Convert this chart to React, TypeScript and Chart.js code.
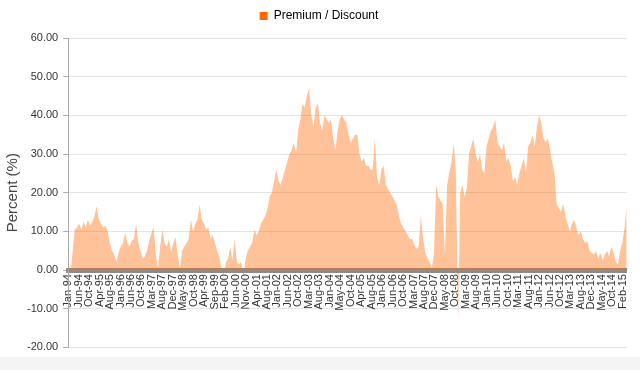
import React, { useEffect, useRef } from 'react';
import { Chart, registerables } from 'chart.js';

Chart.register(...registerables);

// Monthly premium / discount (%), Jan-1994 .. Apr-2015
const V1994 = [2.5, -1, 4.5, 10.5, 11, 12, 10.5, 12.5, 11, 13, 11.5, 12.5];
const V1995 = [14, 16.5, 13, 12, 11, 11.5, 10, 7, 5, 4, 2, 4.5];
const V1996 = [6, 7, 9.5, 7, 6, 7.5, 8, 12, 7, 5, 3, 3.5];
const V1997 = [5, 7.5, 9.5, 11, 4, 0.5, 6, 10.5, 7, 6, 8, 4.5];
const V1998 = [7, 8.5, 4, 0, 5, 6, 7, 8, 13, 10, 12, 13];
const V1999 = [17, 13, 12, 10.5, 11, 8, 9, 7, 5, 3.5, 0.5, -1.5];
const V2000 = [2, 3, 6, 2.5, 8, 2, 1.5, 2, -2, 3, 5, 6];
const V2001 = [7, 10.5, 9, 10, 12, 13, 14, 16, 19, 20, 23, 26];
const V2002 = [23, 22, 24, 26, 28, 30, 31, 33, 30, 36, 39, 43];
const V2003 = [42, 45, 47, 40, 37, 42, 43, 38, 36, 40, 39, 38];
const V2004 = [39, 34, 31, 36, 39, 40, 39, 38, 35, 33, 34, 35];
const V2005 = [35, 30, 28, 29, 27, 27, 26, 26, 34, 24, 22, 26];
const V2006 = [27, 22, 21, 20, 19, 18, 17, 14, 12, 11, 10, 9];
const V2007 = [8, 8, 6.5, 5.5, 6, 14, 8, 4.5, 3, 2, 0.5, 4];
const V2008 = [22, 19, 18, 17, 4, 22, 25, 28, 33, 25, -13, 20];
const V2009 = [22, 19, 21, 30, 32, 34, 30, 28, 30, 26, 25, 32];
const V2010 = [34, 36, 37, 39, 33, 32, 31, 33, 28, 29, 27, 23];
const V2011 = [24, 22, 25, 27, 29, 25, 32, 33, 35, 32, 37, 40];
const V2012 = [38, 34, 33, 34, 31, 28, 25, 17, 16, 15, 17, 14];
const V2013 = [12, 10, 12, 13, 11, 9, 10, 8, 7, 7.5, 5, 4.5];
const V2014 = [4, 5, 3, 4.5, 2.5, 4, 5, 3.5, 6, 4.5, 2, 1.5];
const V2015 = [5, 7, 11, 17];

const YEARLY = [
  V1994, V1995, V1996, V1997, V1998, V1999, V2000, V2001, V2002, V2003, V2004,
  V2005, V2006, V2007, V2008, V2009, V2010, V2011, V2012, V2013, V2014, V2015,
];

const TICK_LABELS = [
  'Jan-94', 'Jun-94', 'Oct-94', 'Apr-95', 'Aug-95', 'Jan-96', 'Jun-96', 'Oct-96',
  'Mar-97', 'Aug-97', 'Dec-97', 'May-98', 'Oct-98', 'Apr-99', 'Sep-99', 'Feb-00',
  'Jun-00', 'Nov-00', 'Apr-01', 'Aug-01', 'Jan-02', 'Jun-02', 'Oct-02', 'Mar-03',
  'Aug-03', 'Jan-04', 'May-04', 'Oct-04', 'Apr-05', 'Aug-05', 'Jan-06', 'Jun-06',
  'Oct-06', 'Mar-07', 'Aug-07', 'Dec-07', 'May-08', 'Oct-08', 'Mar-09', 'Aug-09',
  'Jan-10', 'Jun-10', 'Oct-10', 'Mar-11', 'Aug-11', 'Jan-12', 'Jun-12', 'Oct-12',
  'Mar-13', 'Aug-13', 'Dec-13', 'May-14', 'Oct-14', 'Feb-15',
];

const Y_TICKS = [-20, -10, 0, 10, 20, 30, 40, 50, 60];
const SERIES_NAME = 'Premium / Discount';
const TICK_INTERVAL = 4.777; // months between labelled weeks

const FONT = "'Liberation Sans', Arial, sans-serif";

const legendGap = {
  id: 'legendGap',
  beforeInit(chart: any) {
    const legend = chart.legend;
    if (!legend) return;
    const orig = legend.fit;
    legend.fit = function () {
      orig.call(this);
      this.height += 6;
    };
  },
};

export default function App() {
  const ref = useRef<HTMLCanvasElement | null>(null);

  useEffect(() => {
    if (!ref.current) return;
    const values = YEARLY.flat();
    const points = values.map((v, i) => ({ x: i, y: v }));
    const chart = new Chart(ref.current, {
      type: 'line',
      data: {
        datasets: [
          {
            label: SERIES_NAME,
            data: points,
            fill: 'origin',
            backgroundColor: 'rgba(255,102,0,0.4)',
            borderColor: 'rgba(0,0,0,0)',
            borderWidth: 0,
            pointRadius: 0,
            pointHoverRadius: 0,
            tension: 0,
          },
        ],
      },
      plugins: [legendGap],
      options: {
        animation: false,
        responsive: false,
        maintainAspectRatio: false,
        layout: { padding: { left: 4, right: 6, top: 0, bottom: 1 } },
        plugins: {
          tooltip: { enabled: false },
          legend: {
            position: 'top',
            labels: {
              boxWidth: 8,
              boxHeight: 8,
              padding: 10,
              color: '#333',
              font: { family: FONT, size: 12 },
              generateLabels: (c: any) =>
                c.data.datasets.map((d: any, i: number) => ({
                  text: d.label,
                  fillStyle: '#FF6600',
                  strokeStyle: '#FF6600',
                  lineWidth: 0,
                  hidden: false,
                  datasetIndex: i,
                })),
            },
          },
        },
        scales: {
          x: {
            type: 'linear',
            position: { y: 0 },
            min: 0,
            max: values.length - 1,
            grid: { display: false, drawTicks: false },
            border: { display: true, color: '#8c8c8c', width: 5 },
            afterFit: (s: any) => {
              s.height = 0;
            },
            afterBuildTicks: (axis: any) => {
              axis.ticks = TICK_LABELS.map((_, i) => ({ value: i * TICK_INTERVAL }));
            },
            ticks: {
              autoSkip: false,
              minRotation: 90,
              maxRotation: 90,
              padding: 4,
              color: '#333',
              font: { family: FONT, size: 11 },
              callback: (_v: any, i: number) => TICK_LABELS[i],
            },
          },
          y: {
            min: Y_TICKS[0],
            max: Y_TICKS[Y_TICKS.length - 1],
            afterBuildTicks: (axis: any) => {
              axis.ticks = Y_TICKS.map((v) => ({ value: v }));
            },
            ticks: {
              color: '#333',
              font: { family: FONT, size: 11 },
              padding: 5,
              callback: (v: any) => Number(v).toFixed(2),
            },
            grid: { color: '#e4e4e4', tickLength: 5, tickColor: '#aaa' },
            border: { color: '#aaa', width: 1 },
            title: {
              display: true,
              text: 'Percent (%)',
              color: '#444',
              font: { family: FONT, size: 15 },
              padding: { top: 0, bottom: 0 },
            },
          },
        },
      },
    });
    return () => chart.destroy();
  }, []);

  return (
    <div style={{ position: 'fixed', left: 0, top: 0, width: 640, height: 370, background: '#fff' }}>
      <canvas ref={ref} width={640} height={359} style={{ display: 'block', width: 640, height: 359 }} />
      <div style={{ position: 'absolute', left: 0, top: 357, width: 640, height: 13, background: '#f4f4f4' }} />
    </div>
  );
}
